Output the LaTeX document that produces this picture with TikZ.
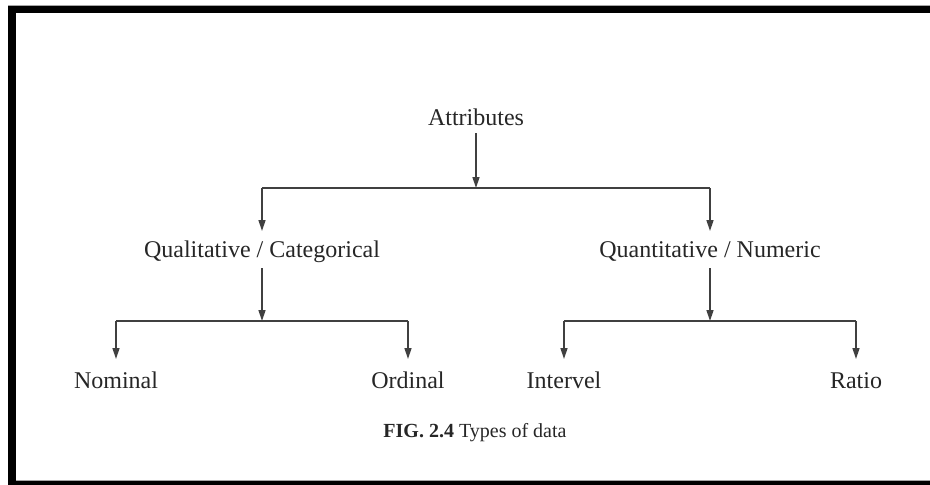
\documentclass[tikz,border=0pt]{standalone}
\usepackage{fontspec}
\setmainfont{Liberation Serif}
\usetikzlibrary{arrows.meta}
\begin{document}
\begin{tikzpicture}[x=1pt,y=-1pt,
  lbl/.style={anchor=base,inner sep=0pt,outer sep=0pt,font=\fontsize{24}{28}\selectfont,text=black!85},
  conn/.style={line width=1.4pt,draw=black!75},
  arr/.style={conn,-{Triangle[length=11pt,width=7pt]}}]
  \useasboundingbox (0,0) rectangle (930,485);
  % frame
  \fill[black!35] (8,4.5) rectangle (930,6);
  \fill[black] (8,6) rectangle (930,13);
  \fill[black] (8,6) rectangle (16,485);
  \fill[black!35] (16,480) rectangle (930,481);
  \fill[black] (16,481) rectangle (930,485);
  % labels
  \node[lbl] (attr) at (476,125) {Attributes};
  \node[lbl] (qual) at (262,257) {Qualitative / Categorical};
  \node[lbl] (quan) at (710,257) {Quantitative / Numeric};
  \node[lbl] (nom) at (116,388) {Nominal};
  \node[lbl] (ord) at (408,388) {Ordinal};
  \node[lbl] (int) at (564,388) {Intervel};
  \node[lbl] (rat) at (856,388) {Ratio};
  \node[anchor=base,inner sep=0pt,font=\fontsize{20}{24}\selectfont,text=black!85] (cap) at (475,437) {\textbf{FIG. 2.4} Types of data};
  % junction points
  \coordinate (j0) at (476,188);
  \coordinate (j0l) at (262,188);
  \coordinate (j0r) at (710,188);
  \coordinate (j1) at (262,321);
  \coordinate (j1l) at (116,321);
  \coordinate (j1r) at (408,321);
  \coordinate (j2) at (710,321);
  \coordinate (j2l) at (564,321);
  \coordinate (j2r) at (856,321);
  % connectors
  \draw[arr] (attr.south |- 0,133) -- (j0);
  \draw[conn] (j0l) -- (j0r);
  \draw[arr] (j0l) -- (qual.north |- 0,231);
  \draw[arr] (j0r) -- (quan.north |- 0,231);
  \draw[arr] (qual.south |- 0,268) -- (j1);
  \draw[arr] (quan.south |- 0,268) -- (j2);
  \draw[conn] (j1l) -- (j1r);
  \draw[conn] (j2l) -- (j2r);
  \draw[arr] (j1l) -- (nom.north |- 0,359);
  \draw[arr] (j1r) -- (ord.north |- 0,359);
  \draw[arr] (j2l) -- (int.north |- 0,359);
  \draw[arr] (j2r) -- (rat.north |- 0,359);
\end{tikzpicture}
\end{document}
